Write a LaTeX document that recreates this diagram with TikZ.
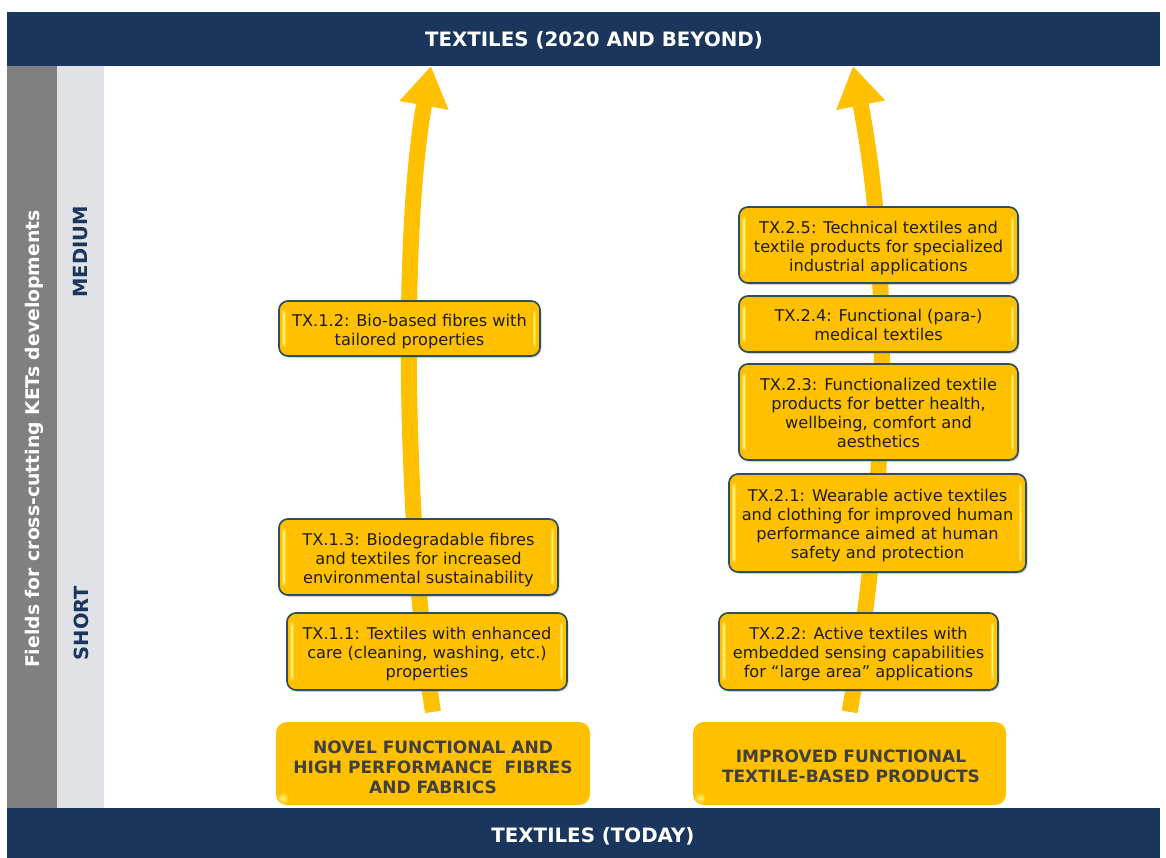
\documentclass[tikz,border=0pt]{standalone}
\usepackage{fontspec}
\setmainfont{DejaVu Sans}
\usetikzlibrary{arrows.meta,shadows,backgrounds}
\definecolor{navy}{HTML}{1A365D}
\definecolor{yel}{HTML}{FFC000}
\definecolor{hlcol}{HTML}{FFF27A}
\definecolor{bord}{HTML}{2E4E5C}
\definecolor{colgray}{HTML}{808080}
\definecolor{collight}{HTML}{E1E2E6}
\definecolor{txt}{HTML}{1E1E1E}
\definecolor{basetxt}{HTML}{404040}
\newcommand{\boxlines}[1]{\raisebox{-3.5pt}[\height][\depth]{\begin{tabular}{@{}c@{}}#1\end{tabular}}}
\tikzset{
  bar/.style={fill=navy, draw=none},
  bartext/.style={text=white, font=\fontsize{19.8}{22}\selectfont\bfseries},
  tbox/.style={rounded corners=9pt, fill=yel, draw=bord, line width=1.7pt,
    text=txt, font=\fontsize{16.2}{19}\selectfont, inner sep=2pt,
    drop shadow={opacity=0.35, shadow xshift=1.5pt, shadow yshift=-1.8pt},
    path picture={
      \draw[line width=3.2pt, draw=hlcol, opacity=0.45, line cap=round]
        ([xshift=5pt,yshift=-11pt]path picture bounding box.north west) -- ([xshift=5pt,yshift=11pt]path picture bounding box.south west);
      \draw[line width=3.2pt, draw=hlcol, opacity=0.45, line cap=round]
        ([xshift=-5.5pt,yshift=-11pt]path picture bounding box.north east) -- ([xshift=-5.5pt,yshift=11pt]path picture bounding box.south east);
      \draw[line width=1.4pt, draw=hlcol, opacity=0.9, line cap=round]
        ([xshift=5pt,yshift=-13pt]path picture bounding box.north west) -- ([xshift=5pt,yshift=13pt]path picture bounding box.south west);
      \draw[line width=1.4pt, draw=hlcol, opacity=0.9, line cap=round]
        ([xshift=-5.5pt,yshift=-13pt]path picture bounding box.north east) -- ([xshift=-5.5pt,yshift=13pt]path picture bounding box.south east);
    }},
  basebox/.style={rounded corners=11pt, fill=yel, draw=none, inner sep=0pt,
    path picture={
      \shade[inner color=hlcol, outer color=yel] ([xshift=-7pt,yshift=-7pt]path picture bounding box.north east) circle (6pt);
      \shade[inner color=hlcol, outer color=yel] ([xshift=7pt,yshift=7pt]path picture bounding box.south west) circle (6pt);
    }},
  basetext/.style={align=center, text=basetxt, font=\fontsize{17}{20}\selectfont\bfseries, inner sep=0pt},
  bigarrow/.style={draw=yel, line width=16pt, -{Triangle[length=40pt,width=47pt]}},
  rowlabel/.style={text=navy, font=\fontsize{19.5}{22}\selectfont\bfseries, rotate=90},
}
\begin{document}
\begin{tikzpicture}[x=1pt,y=-1pt]
\useasboundingbox (0,0) rectangle (1166,857);
% bars and columns
\node[bar, minimum width=1153pt, minimum height=54pt, inner sep=0pt] (top) at (583.5,39) {};
\node[bartext] (toptext) at (594,40) {TEXTILES (2020 AND BEYOND)};
\node[bar, minimum width=1153pt, minimum height=50pt, inner sep=0pt] (bottom) at (583.5,833) {};
\node[bartext] (bottomtext) at (593,836) {TEXTILES (TODAY)};
\node[fill=colgray, minimum width=50pt, minimum height=742pt, inner sep=0pt] (gcol) at (32,437) {};
\node[fill=collight, minimum width=47pt, minimum height=742pt, inner sep=0pt] (lcol) at (80.5,437) {};
\node[text=white, font=\fontsize{18.8}{22}\selectfont\bfseries, rotate=90] (fields) at (34,439) {Fields for cross-cutting KETs developments};
\node[rowlabel] (medium) at (81,252) {MEDIUM};
\node[rowlabel] (short) at (81,623) {SHORT};
% base boxes
\node[basebox, minimum width=314pt, minimum height=83pt] (novel) at (433,763.5) {};
\node[basetext] (noveltext) at (433,767) {NOVEL FUNCTIONAL AND\\HIGH PERFORMANCE\ \ FIBRES\\AND FABRICS};
\node[basebox, minimum width=313pt, minimum height=83pt] (improved) at (849.5,763.5) {};
\node[basetext] (improvedtext) at (851,766.5) {IMPROVED FUNCTIONAL\\TEXTILE-BASED PRODUCTS};
% tip coordinates
\coordinate (tipL) at (431,66);
\coordinate (tipR) at (853,66);
% left column boxes
\node[tbox, minimum width=261pt, minimum height=55pt] (tx12) at (409.5,328.5) {\boxlines{TX.1.2: Bio-based fibres with\\tailored properties}};
\node[tbox, minimum width=279pt, minimum height=76pt] (tx13) at (418.5,557) {\boxlines{TX.1.3: Biodegradable fibres\\and textiles for increased\\environmental sustainability}};
\node[tbox, minimum width=280pt, minimum height=77pt] (tx11) at (427,651.5) {\boxlines{TX.1.1: Textiles with enhanced\\care (cleaning, washing, etc.)\\properties}};
% right column boxes
\node[tbox, minimum width=279pt, minimum height=76pt] (tx25) at (878.5,245) {\boxlines{TX.2.5: Technical textiles and\\textile products for specialized\\industrial applications}};
\node[tbox, minimum width=279pt, minimum height=56pt] (tx24) at (878.5,324) {\boxlines{TX.2.4: Functional (para-)\\medical textiles}};
\node[tbox, minimum width=279pt, minimum height=96pt] (tx23) at (878.5,412) {\boxlines{TX.2.3: Functionalized textile\\products for better health,\\wellbeing, comfort and\\aesthetics}};
\node[tbox, minimum width=297pt, minimum height=98pt] (tx21) at (877.5,523) {\boxlines{TX.2.1: Wearable active textiles\\and clothing for improved human\\performance aimed at human\\safety and protection}};
\node[tbox, minimum width=279pt, minimum height=77pt] (tx22) at (858.5,651.5) {\boxlines{TX.2.2: Active textiles with\\embedded sensing capabilities\\for “large area” applications}};
% arrows behind boxes
\begin{scope}[on background layer]
\fill[white] (0,0) rectangle (1166,857);
\draw[bigarrow] ([yshift=10pt]novel.north) .. controls (408,560) and (398,250) .. (tipL);
\draw[bigarrow] ([yshift=10pt]improved.north) .. controls (885,520) and (895,280) .. (tipR);
\end{scope}
\end{tikzpicture}
\end{document}
